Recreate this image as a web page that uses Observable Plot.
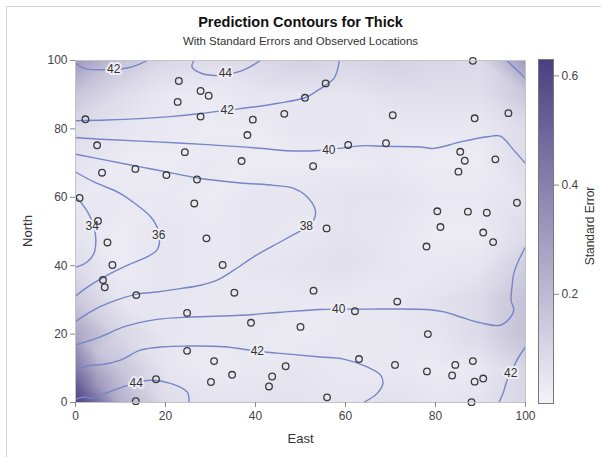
<!DOCTYPE html>
<html><head><meta charset="utf-8">
<script src="https://cdn.jsdelivr.net/npm/d3@7"></script>
<script src="https://cdn.jsdelivr.net/npm/@observablehq/plot@0.6"></script>
<style>
body{margin:0;width:601px;height:457px;overflow:hidden;background:#fff;font-family:"Liberation Sans",Arial,sans-serif;position:relative}
#border{position:absolute;left:6px;top:6px;width:640px;height:500px;border:1px solid #d4d4d4}
.t{position:absolute;white-space:nowrap;color:#222}
#title{left:0;width:601px;top:14px;text-align:center;font-weight:bold;font-size:14.5px;color:#111}
#subtitle{left:0;width:601px;top:35px;text-align:center;font-size:11.5px;color:#333}
#east{left:0;width:601px;top:431px;text-align:center;font-size:13px;color:#333}
#north{left:27px;top:231px;font-size:13px;color:#333;transform:translate(-50%,-50%) rotate(-90deg)}
#se{left:590px;top:226px;font-size:12px;color:#333;transform:translate(-50%,-50%) rotate(-90deg)}
svg{position:absolute}
</style></head>
<body>
<div id="border"></div>
<div class="t" id="title">Prediction Contours for Thick</div>
<div class="t" id="subtitle">With Standard Errors and Observed Locations</div>
<div class="t" id="east">East</div>
<div class="t" id="north">North</div>
<div class="t" id="se">Standard Error</div>
<script>
// Observed locations (East, North)
const obsEast = [22.96,27.8,29.6,22.7,51.0,2.2,27.8,39.4,46.4,38.2,4.8,24.3,36.9,52.8,5.9,13.3,20.2,27.0,0.9,26.4,5.0,88.3,55.6,70.5,88.7,96.2,60.6,69.0,85.5,86.5,93.3,85.1,98.1,80.4,87.2,91.4,81.1,55.8,90.6,92.8,78.0,52.9,71.5,62.1,50.0,78.3,63.0,71.0,78.1,84.4,88.3,83.7,88.7,90.6,55.9,88.0,7.1,8.2,6.1,6.5,13.5,29.1,32.7,35.3,24.8,39.0,24.8,30.8,46.7,34.8,43.7,30.1,43.0,17.9,13.4];
const obsNorth = [94.0,91.1,89.7,87.9,89.1,82.8,83.6,82.7,84.4,78.2,75.2,73.2,70.6,69.1,67.2,68.3,66.5,65.2,59.8,58.2,53.1,99.9,93.3,84.0,83.1,84.6,75.3,75.8,73.3,70.7,71.1,67.5,58.4,55.9,55.8,55.5,51.3,50.9,49.7,46.9,45.6,32.7,29.5,26.7,22.1,20.0,12.7,11.0,9.1,11.0,12.1,7.9,6.1,7.0,1.5,0.1,46.8,40.2,35.8,33.7,31.4,48.0,40.2,32.1,26.2,23.3,15.1,12.1,10.6,8.1,7.6,6.0,4.7,6.8,0.4];

// Prediction contour traces [East, North]
const contour34  = [[0,60.2],[1.5,58],[3,55],[3.9,52],[4.4,49.4],[4.5,46.5],[4.1,43.6],[2.6,41.1],[0,39.5]];
const contour36  = [[0,67.4],[4.1,64.5],[10,61.1],[13.7,57.7],[16.7,54.3],[18.1,51.4],[18.6,48.5],[18.6,46.2],[18,44.4],[15.9,42.6],[11.5,40.1],[7,37.2],[3.3,34.3],[0,31.1]];
const contour38  = [[0,72.6],[7,70.8],[14.4,68.9],[21.8,67],[27.8,65.5],[36.7,64.2],[44.1,63.5],[48.5,62.6],[51.5,60.1],[53.3,56.2],[53,53.5],[51.5,51.3],[48.9,49.4],[45.6,47],[39.6,42.6],[35.2,38.7],[31.5,35.8],[27.8,34.3],[23.3,33.3],[18.1,32.3],[13.7,31.7],[7,28.9],[3.3,26.5],[0,23.6]];
const contour40a = [[0,77.5],[7,76.9],[18.1,76.2],[29.3,75.4],[40.4,74.4],[47,73.6],[54.1,73.7],[58.5,74.3],[64.1,75.1],[68.5,74.9],[76.7,74.7],[79.6,74.3],[85.6,76.2],[91.5,77.7],[94.4,77.9],[97.4,73.8],[100,69.9]];
const contour40b = [[0,16.8],[5.5,19.2],[10.7,22.1],[18.1,24.3],[25.6,25],[36.7,25.5],[45.6,26.4],[54.4,27.2],[65,27.3],[78.1,27.2],[81.9,26.5],[85.6,25],[90,23.3],[94.4,22.6],[96.7,25],[97.4,27],[96.8,29.9],[97,33.8],[97.4,37.7],[98.5,41.6],[100,45.5]];
const contour42a = [[0,82.4],[7,82.6],[14.4,83],[21,83.6],[27.8,84.5],[33.7,85.5],[39.6,86.4],[45,87.5],[51,89.1],[53.3,90.8],[55.6,92.8],[57.4,94.7],[58.3,97.7],[58.6,100]];
const contour42b = [[0,99.2],[1.9,97.7],[5.5,97.3],[8.5,97.4],[11.5,97.8],[14,98.8],[15.9,100]];
const contour42c = [[95.9,100],[98.1,97.2],[100,94.7]];
const contour42d = [[0,9.4],[3.3,10.9],[5.5,11],[10,12.4],[14.4,15.3],[19.6,16.3],[24.8,16.5],[33,16.3],[40.4,15],[47.8,14.1],[54.4,13.3],[59.6,12.7],[64.8,10.4],[67.8,8],[68.3,5.5],[67,2.6],[64,0]];
const contour42e = [[94.1,0],[95.1,3],[95.9,6.5],[96.7,8.5],[98.1,12.4],[100,16.3]];
const contour44a = [[26.3,100],[25.9,98.1],[28.1,96.2],[31,95.6],[33.3,95.8],[36.7,96.9],[39,98.3],[41.1,100]];
const contour44b = [[0,1],[2.2,1.6],[3.3,1.2],[5.5,2.1],[8.5,3.6],[11.1,4.8],[13.3,5.7],[16.7,6.5],[21.1,5.6],[24.8,3.1],[25.2,0]];

// Contour labels
const labelEast  = [8.5,33.3,33.7,56.3,3.7,18.5,51.3,58.5,40.4,13.5,96.7];
const labelNorth = [97.5,96.2,85.5,73.8,51.5,48.9,51.6,27.2,15,5.7,8.5];
const labelText  = ["42","44","42","40","34","36","38","40","42","44","42"];

// Standard error, sampled every 10 units (rows from North=100 down to North=0; columns East 0..100)
const seGridEast  = [0,10,20,30,40,50,60,70,80,90,100];
const seGridNorth = [100,90,80,70,60,50,40,30,20,10,0];
const seGrid = [
  [.32,.17,.10,.08,.09,.12,.10,.12,.10,.09,.32],
  [.16,.08,.04,.03,.05,.05,.05,.07,.07,.07,.15],
  [.08,.05,.04,.03,.03,.05,.05,.04,.04,.04,.08],
  [.06,.03,.03,.04,.03,.03,.03,.04,.03,.03,.08],
  [.04,.04,.04,.03,.05,.05,.06,.06,.04,.04,.06],
  [.05,.03,.05,.04,.05,.04,.06,.05,.03,.03,.08],
  [.08,.03,.05,.04,.05,.06,.07,.05,.04,.05,.13],
  [.15,.05,.05,.04,.04,.04,.04,.04,.06,.09,.18],
  [.28,.10,.05,.04,.04,.03,.04,.04,.05,.09,.18],
  [.42,.16,.05,.03,.04,.05,.04,.04,.03,.04,.10],
  [.63,.24,.08,.06,.06,.06,.05,.07,.05,.06,.10]
];
// extra samples near the bottom-left corner
const seExtraEast  = [0,5,5,3,0,5,5];
const seExtraNorth = [5,0,5,3,15,15,10];
const seExtraValue = [.54,.46,.32,.46,.36,.16,.25];

const seMax = 0.63;
const seColors = ["#f4f3f9", "#4b3f82"];

// build tables
const points = obsEast.map((e,i)=>({east:e, north:obsNorth[i]}));
const contours = [];
[["34",contour34],["36",contour36],["38",contour38],["40a",contour40a],["40b",contour40b],["42a",contour42a],["42b",contour42b],["42c",contour42c],["42d",contour42d],["42e",contour42e],["44a",contour44a],["44b",contour44b]]
  .forEach(([id,arr])=>arr.forEach(([e,n])=>contours.push({id,east:e,north:n})));
const labels = labelEast.map((e,i)=>({east:e, north:labelNorth[i], text:labelText[i]}));
const se = [];
seGridNorth.forEach((n,j)=>seGridEast.forEach((e,i)=>se.push({east:e,north:n,se:seGrid[j][i]})));
seExtraEast.forEach((e,i)=>se.push({east:e,north:seExtraNorth[i],se:seExtraValue[i]}));

const color = {type:"linear", domain:[0,seMax], range:seColors, interpolate:"rgb"};
const axisStyle = {fontFamily:"'Liberation Sans',Arial,sans-serif", fontSize:"12px", color:"#444", background:"transparent"};

const main = Plot.plot({
  width:540, height:407,
  marginLeft:75, marginRight:15, marginTop:10, marginBottom:55,
  style:axisStyle,
  x:{domain:[0,100], label:null},
  y:{domain:[0,100], label:null},
  color,
  marks:[
    Plot.raster(se,{x:"east", y:"north", fill:"se", interpolate:"barycentric", x1:0, y1:0, x2:100, y2:100}),
    Plot.line(contours,{x:"east", y:"north", z:"id", stroke:"#7585c6", strokeWidth:1.4, curve:"catmull-rom", clip:true}),
    Plot.text(labels,{x:"east", y:"north", text:"text", fill:"#333", fontSize:12, stroke:"#eeedf5", strokeWidth:4, paintOrder:"stroke"}),
    Plot.dot(points,{x:"east", y:"north", r:3.3, stroke:"#3a3a3a", strokeWidth:1.3, fill:"none"}),
    Plot.frame({stroke:"#c4c4c4"}),
    Plot.axisX({ticks:[0,20,40,60,80,100], tickSize:5, tickPadding:4, label:null, stroke:"#888"}),
    Plot.axisY({ticks:[0,20,40,60,80,100], tickSize:5, tickPadding:3, label:null, stroke:"#888"})
  ]
});
main.style.left = "0px"; main.style.top = "50px";
document.body.appendChild(main);

const legend = Plot.plot({
  width:71, height:407,
  marginLeft:8, marginRight:48, marginTop:9, marginBottom:54,
  style:axisStyle,
  x:{domain:[0,1], axis:null},
  y:{domain:[0,seMax], label:null},
  color,
  marks:[
    Plot.raster({x1:0, x2:1, y1:0, y2:seMax, fill:(x,y)=>y}),
    Plot.frame({stroke:"#777"}),
    Plot.axisY({anchor:"right", ticks:[0.2,0.4,0.6], tickFormat:".1f", tickSize:5, tickPadding:3, label:null, stroke:"#888"})
  ]
});
legend.style.left = "530px"; legend.style.top = "50px";
document.body.appendChild(legend);
</script>
</body></html>
